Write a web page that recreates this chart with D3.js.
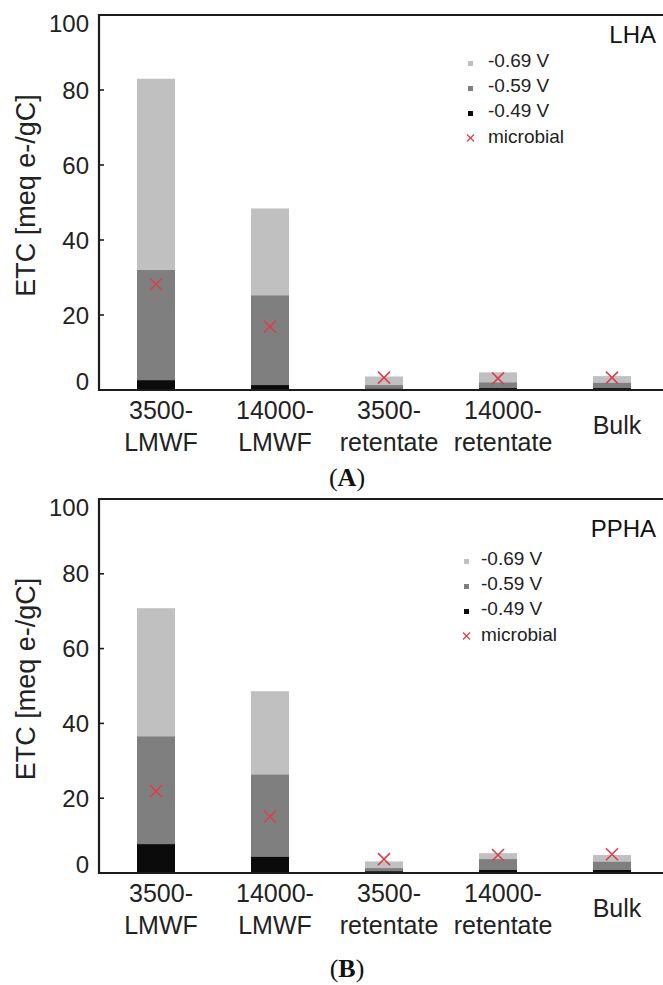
<!DOCTYPE html>
<html>
<head>
<meta charset="utf-8">
<script src="https://cdn.jsdelivr.net/npm/d3@7/dist/d3.min.js"></script>
<style>
  html, body { margin: 0; padding: 0; background: #fff; }
  svg { display: block; }
  text { font-family: "Liberation Sans", Arial, Helvetica, sans-serif; }
</style>
</head>
<body>
<svg id="chart" width="663" height="985"></svg>
<script>
// ---------------- data ----------------
const categories = ["3500-LMWF", "14000-LMWF", "3500-retentate", "14000-retentate", "Bulk"];
const categoryLines = [["3500-", "LMWF"], ["14000-", "LMWF"], ["3500-", "retentate"], ["14000-", "retentate"], ["Bulk"]];
const yTicks = [0, 20, 40, 60, 80, 100];
const seriesNames = ["-0.69 V", "-0.59 V", "-0.49 V"];
const microbialName = "microbial";

// Panel A (LHA)
const lha_v069 = [83.0, 48.4, 3.6, 4.7, 3.7];
const lha_v059 = [32.0, 25.2, 1.3, 2.0, 1.9];
const lha_v049 = [2.6, 1.3, 0.3, 0.5, 0.5];
const lha_microbial = [28.2, 16.9, 3.3, 3.1, 3.3];

// Panel B (PPHA)
const ppha_v069 = [70.8, 48.6, 3.1, 5.3, 4.8];
const ppha_v059 = [36.5, 26.3, 1.3, 3.7, 3.0];
const ppha_v049 = [7.7, 4.3, 0.45, 0.8, 0.8];
const ppha_microbial = [21.9, 15.1, 3.7, 4.8, 5.0];

const panels = [
  { name: "LHA", tag: "A", series: [lha_v069, lha_v059, lha_v049], microbial: lha_microbial,
    top: 15, bottom: 390, nameY: 43, legendY: 67, legendSqX: 468, legendTxX: 488, tagY: 486 },
  { name: "PPHA", tag: "B", series: [ppha_v069, ppha_v059, ppha_v049], microbial: ppha_microbial,
    top: 499, bottom: 873, nameY: 537, legendY: 565, legendSqX: 464, legendTxX: 481, tagY: 977 }
];

const colors = ["#c0c0c0", "#7f7f7f", "#0b0b0b"];
const red = "#d8424c";
const axisColor = "#1c1c1c";
const left = 99, rightEdge = 669;

const svg = d3.select("#chart");

const x = d3.scaleBand().domain(categories).range([left, rightEdge])
  .paddingInner(2 / 3).paddingOuter(1 / 3);

function cross(g, cx, cy, r, sw) {
  g.append("path")
    .attr("d", `M${cx - r},${cy - r}L${cx + r},${cy + r}M${cx - r},${cy + r}L${cx + r},${cy - r}`)
    .attr("stroke", red).attr("stroke-width", sw).attr("fill", "none");
}

panels.forEach(p => {
  const g = svg.append("g");
  const y = d3.scaleLinear().domain([0, 100]).range([p.bottom, p.top]);

  // bars (overlaid, largest behind)
  p.series.forEach((vals, si) => {
    g.selectAll(null).data(vals).enter().append("rect")
      .attr("x", (d, i) => x(categories[i]))
      .attr("width", x.bandwidth())
      .attr("y", d => y(d))
      .attr("height", d => y(0) - y(d))
      .attr("fill", colors[si]);
  });

  // microbial markers
  p.microbial.forEach((v, i) => {
    cross(g, x(categories[i]) + x.bandwidth() / 2, y(v), 6, 1.6);
  });

  // frame: left axis, top line, bottom axis
  g.append("path")
    .attr("d", `M${rightEdge + 10},${p.top}H${left}V${p.bottom}H${rightEdge + 10}`)
    .attr("fill", "none").attr("stroke", axisColor).attr("stroke-width", 2.2);

  // y ticks (inward)
  yTicks.forEach(t => {
    if (t !== 0 && t !== 100) {
      g.append("line").attr("x1", left).attr("x2", left + 5)
        .attr("y1", y(t)).attr("y2", y(t))
        .attr("stroke", axisColor).attr("stroke-width", 1.6);
    }
  });
  // y tick labels (kept inside the axis extent)
  const half = 8.5;
  yTicks.forEach(t => {
    const cy = Math.min(Math.max(y(t), p.top + half), p.bottom - half);
    g.append("text").attr("x", 89).attr("y", cy + half)
      .attr("text-anchor", "end").attr("font-size", 24).attr("fill", "#222")
      .text(t);
  });

  // y axis title
  const midY = (p.top + p.bottom) / 2 - 7;
  g.append("text")
    .attr("transform", `translate(35,${midY}) rotate(-90)`)
    .attr("text-anchor", "middle").attr("font-size", 27).attr("fill", "#222")
    .text("ETC [meq e-/gC]");

  // x tick labels
  categoryLines.forEach((lines, i) => {
    const cx = x(categories[i]) + x.bandwidth() / 2 + 5;
    const t = g.append("text").attr("text-anchor", "middle")
      .attr("font-size", 25).attr("fill", "#222");
    if (lines.length === 1) {
      t.append("tspan").attr("x", cx).attr("y", p.bottom + 44).text(lines[0]);
    } else {
      lines.forEach((ln, k) => {
        t.append("tspan").attr("x", cx).attr("y", p.bottom + 29 + k * 32).text(ln);
      });
    }
  });

  // panel name
  g.append("text").attr("x", 656).attr("y", p.nameY)
    .attr("text-anchor", "end").attr("font-size", 24).attr("fill", "#111")
    .text(p.name);

  // legend
  seriesNames.forEach((s, k) => {
    const ly = p.legendY + k * 25;
    g.append("rect").attr("x", p.legendSqX).attr("y", ly - 6).attr("width", 5).attr("height", 5)
      .attr("fill", colors[k]);
    g.append("text").attr("x", p.legendTxX).attr("y", ly)
      .attr("font-size", 19).attr("fill", "#222").text(s);
  });
  const my = p.legendY + 3 * 25 + 1;
  cross(g, p.legendSqX + 2.5, my - 5, 3.5, 1.3);
  g.append("text").attr("x", p.legendTxX).attr("y", my)
    .attr("font-size", 19).attr("fill", "#222").text(microbialName);

  // panel tag
  const tag = svg.append("text").attr("x", 347).attr("y", p.tagY)
    .attr("text-anchor", "middle").attr("font-size", 26)
    .style("font-family", "'Liberation Serif', 'Times New Roman', serif").attr("fill", "#111");
  tag.append("tspan").text("(");
  tag.append("tspan").attr("font-weight", "bold").text(p.tag);
  tag.append("tspan").text(")");
});
</script>
</body>
</html>
